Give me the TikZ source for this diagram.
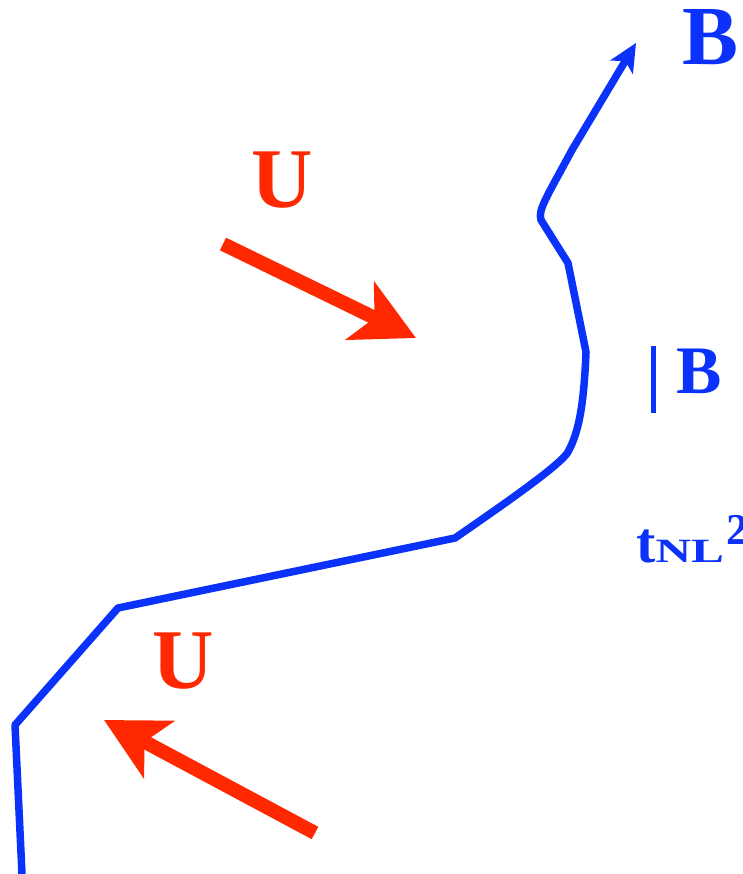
\documentclass[tikz,border=0pt]{standalone}
\usepackage{fontspec}
\setmainfont{Liberation Serif}
\usetikzlibrary{arrows.meta}
\definecolor{fieldblue}{RGB}{10,50,250}
\definecolor{flowred}{RGB}{255,40,0}
\begin{document}
\begin{tikzpicture}[x=1pt,y=-1pt,
  fieldline/.style={draw=fieldblue,line width=7.5pt,line join=round},
  flowarrow/.style={draw=flowred,line width=14pt,-{Stealth[length=62pt,width=64pt,inset=16pt]}},
  lbl/.style={inner sep=0pt,font=\bfseries}]
\useasboundingbox (0,0) rectangle (742,874);
% field line
\coordinate (p0) at (22,874);
\coordinate (p1) at (15,725);
\coordinate (p2) at (118,608);
\coordinate (p3) at (455,538);
\coordinate (p4) at (568,452);
\coordinate (p5) at (586,352);
\coordinate (p6) at (568,263);
\coordinate (p8) at (572,150);
\coordinate (tipB) at (636,43);
\draw[fieldline,-{Stealth[length=28pt,width=26pt,inset=7pt]}]
  (p0) -- (p1) -- (p2) -- (p3)
  .. controls (510,500) and (560,465) .. (p4)
  .. controls (580,430) and (584,400) .. (p5)
  -- (p6) -- (541,220) .. controls (538,210) and (545,200) .. (p8) -- (tipB);
% flow arrows
\coordinate (a1s) at (223,244);
\coordinate (a1e) at (416,338);
\coordinate (a2s) at (315,833);
\coordinate (a2e) at (104,720);
\draw[flowarrow] (a1s) -- (a1e);
\draw[flowarrow] (a2s) -- (a2e);
% labels
\node[lbl,text=fieldblue,font=\fontsize{84}{84}\selectfont\bfseries,anchor=base west] (Btop) at (682,65) {B};
\node[lbl,text=flowred,font=\fontsize{85}{85}\selectfont\bfseries,anchor=base] (Utop) at (282,208) {U};
\node[lbl,text=flowred,font=\fontsize{85}{85}\selectfont\bfseries,anchor=base] (Ubot) at (183,688) {U};
\draw[fieldblue,line width=5pt] (653.5,346) -- (653.5,413);
\node[lbl,text=fieldblue,font=\fontsize{68}{68}\selectfont\bfseries,anchor=base west] (Bmid) at (676,393) {B};
\node[lbl,text=fieldblue,anchor=base west] (tnl) at (636,562) {\fontsize{58}{58}\selectfont\bfseries t\fontsize{34}{34}\selectfont\scalebox{1.45}[1]{NL}\hspace{2pt}\raisebox{18pt}{\fontsize{44}{44}\selectfont 2}};
\end{tikzpicture}
\end{document}
